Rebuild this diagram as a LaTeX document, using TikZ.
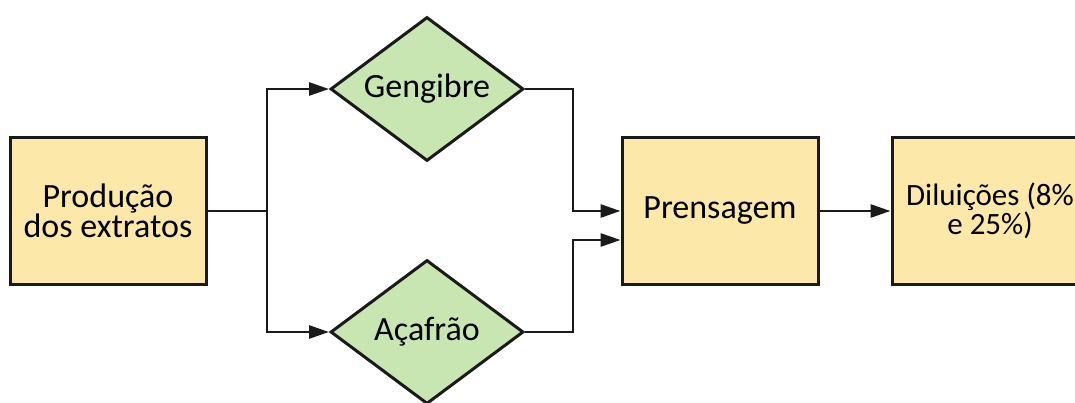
\documentclass[tikz,border=0pt]{standalone}
\usepackage{fontspec}
\setmainfont{Carlito}
\usetikzlibrary{shapes.geometric,arrows.meta}
\definecolor{boxfill}{HTML}{FCE8A8}
\definecolor{leaffill}{HTML}{C8E6B2}
\definecolor{ink}{HTML}{1A1A1A}
\tikzset{
  stepbox/.style={draw=ink, line width=3pt, fill=boxfill, minimum width=196pt,
    minimum height=146pt, inner sep=0pt, align=center,
    font=\fontsize{34}{30}\selectfont},
  herb/.style={draw=ink, line width=3pt, fill=leaffill, diamond, aspect=1.34,
    minimum width=193pt, minimum height=144pt, inner sep=0pt,
    font=\fontsize{34}{30}\selectfont},
  flow/.style={draw=ink, line width=2.8pt, -{Triangle[length=20pt,width=13pt]}},
  wire/.style={draw=ink, line width=2.8pt},
}
\begin{document}
\begin{tikzpicture}[x=1pt,y=-1pt]
  \useasboundingbox (0,0) rectangle (1075,403);
  \begin{scope}
    \clip (0,0) rectangle (1075,403);
    \node[stepbox] (prod) at (108,211) {Produção\\dos extratos};
    \node[herb] (geng) at (427,89) {Gengibre};
    \node[herb] (acaf) at (427,332) {Açafrão};
    \node[stepbox] (pren) at (720,211) {Prensagem};
    \node[stepbox, font=\fontsize{31}{29}\selectfont] (dilu) at (990,211)
      {Diluições (8\%\\e 25\%)};

    \coordinate (split) at (267,211);
    \coordinate (joinA) at (573,89);
    \coordinate (joinB) at (573,332);

    \draw[wire] (prod.east) -- (split);
    \draw[flow] (split) |- (geng.west);
    \draw[flow] (split) |- (acaf.west);
    \draw[flow] (geng.east) -- (joinA) |- (pren.west);
    \draw[flow] (acaf.east) -- (joinB) |- ([yshift=-29pt]pren.west);
    \draw[flow] (pren.east) -- (dilu.west);
  \end{scope}
\end{tikzpicture}
\end{document}
